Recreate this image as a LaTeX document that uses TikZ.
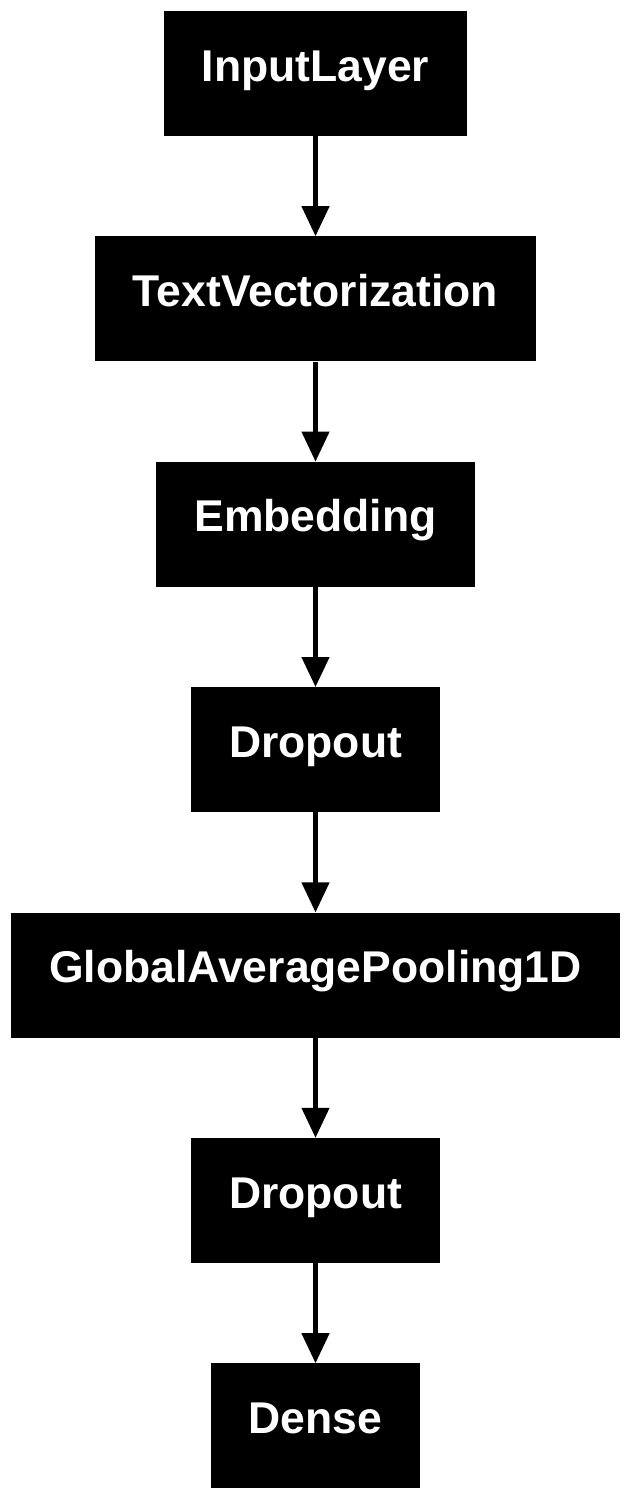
\documentclass[tikz,border=0pt]{standalone}
\usepackage{fontspec}
\setmainfont{Liberation Sans}
\usetikzlibrary{arrows.meta,positioning}

\begin{document}
\begin{tikzpicture}[line join=miter,>={Triangle[length=30pt,width=27pt]},x=1pt,y=1pt,
  layer/.style={fill=black,text=white,font=\fontsize{44.5}{53}\selectfont\bfseries,
    minimum height=125pt,inner xsep=38pt,inner ysep=0pt,text height=32pt,text depth=17pt},
  flow/.style={->,line width=4.5pt,color=black}]
\useasboundingbox (0,0) rectangle (631,-1497);
\node[layer] (input) at (315.5,-73.5) {InputLayer};
\node[layer,below=100pt of input] (textvec) {TextVectorization};
\node[layer,below=100pt of textvec] (embed) {Embedding};
\node[layer,below=100pt of embed] (drop1) {Dropout};
\node[layer,below=100pt of drop1] (pool) {GlobalAveragePooling1D};
\node[layer,below=100pt of pool] (drop2) {Dropout};
\node[layer,below=100pt of drop2] (dense) {Dense};
\draw[flow] (input) -- (textvec);
\draw[flow] (textvec) -- (embed);
\draw[flow] (embed) -- (drop1);
\draw[flow] (drop1) -- (pool);
\draw[flow] (pool) -- (drop2);
\draw[flow] (drop2) -- (dense);
\end{tikzpicture}
\end{document}
